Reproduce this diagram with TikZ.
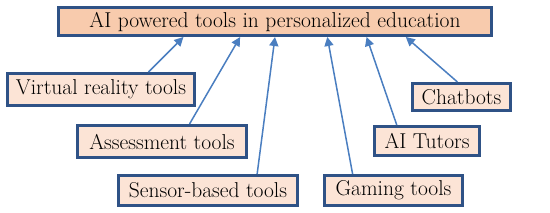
\documentclass[tikz,border=0pt]{standalone}
\usepackage{tikz}
\usetikzlibrary{arrows.meta, positioning, calc}

\definecolor{boxblue}{HTML}{2F5286}
\definecolor{arrowblue}{HTML}{4A7EC0}
\definecolor{mainfill}{HTML}{F8CBAD}
\definecolor{toolfill}{HTML}{FCE4D6}

\tikzset{
    toolbox/.style={draw=boxblue, line width=3pt, fill=toolfill, inner sep=0pt,
        font=\fontsize{21.5}{24}\selectfont},
    mainbox/.style={toolbox, fill=mainfill},
    link/.style={draw=arrowblue, line width=1.5pt, -{Triangle[length=9pt, width=9pt]}}
}

\begin{document}
\begin{tikzpicture}[x=1pt, y=-1pt]
        \useasboundingbox (0,0) rectangle (550,212);
        % Main box
        \node[mainbox, minimum width=433, minimum height=28] (main) at (275, 21.5) {AI powered tools in personalized education};
        % Tool boxes
        \node[toolbox, minimum width=187, minimum height=32] (vr) at (101, 89.5) {Virtual reality tools};
        \node[toolbox, minimum width=98, minimum height=27] (chat) at (461.5, 97) {Chatbots};
        \node[toolbox, minimum width=169, minimum height=32] (assess) at (162, 141.5) {Assessment tools};
        \node[toolbox, minimum width=105, minimum height=29] (tutor) at (427, 141) {AI Tutors};
        \node[toolbox, minimum width=179, minimum height=30] (sensor) at (208, 190.5) {Sensor-based tools};
        \node[toolbox, minimum width=138, minimum height=30] (game) at (393.5, 190.5) {Gaming tools};
        % Arrows
        \draw[link] ($(vr.north west)!0.75!(vr.north east)$) -- ($(main.south west)!0.29!(main.south east)$);
        \draw[link] ($(assess.north west)!0.66!(assess.north east)$) -- ($(main.south west)!0.42!(main.south east)$);
        \draw[link] ($(sensor.north west)!0.77!(sensor.north east)$) -- ($(main.south west)!0.5!(main.south east)$);
        \draw[link] ($(game.north west)!0.21!(game.north east)$) -- ($(main.south west)!0.62!(main.south east)$);
        \draw[link] ($(tutor.north west)!0.22!(tutor.north east)$) -- ($(main.south west)!0.71!(main.south east)$);
        \draw[link] ($(chat.north west)!0.46!(chat.north east)$) -- ($(main.south west)!0.8!(main.south east)$);
    \end{tikzpicture}
\end{document}
